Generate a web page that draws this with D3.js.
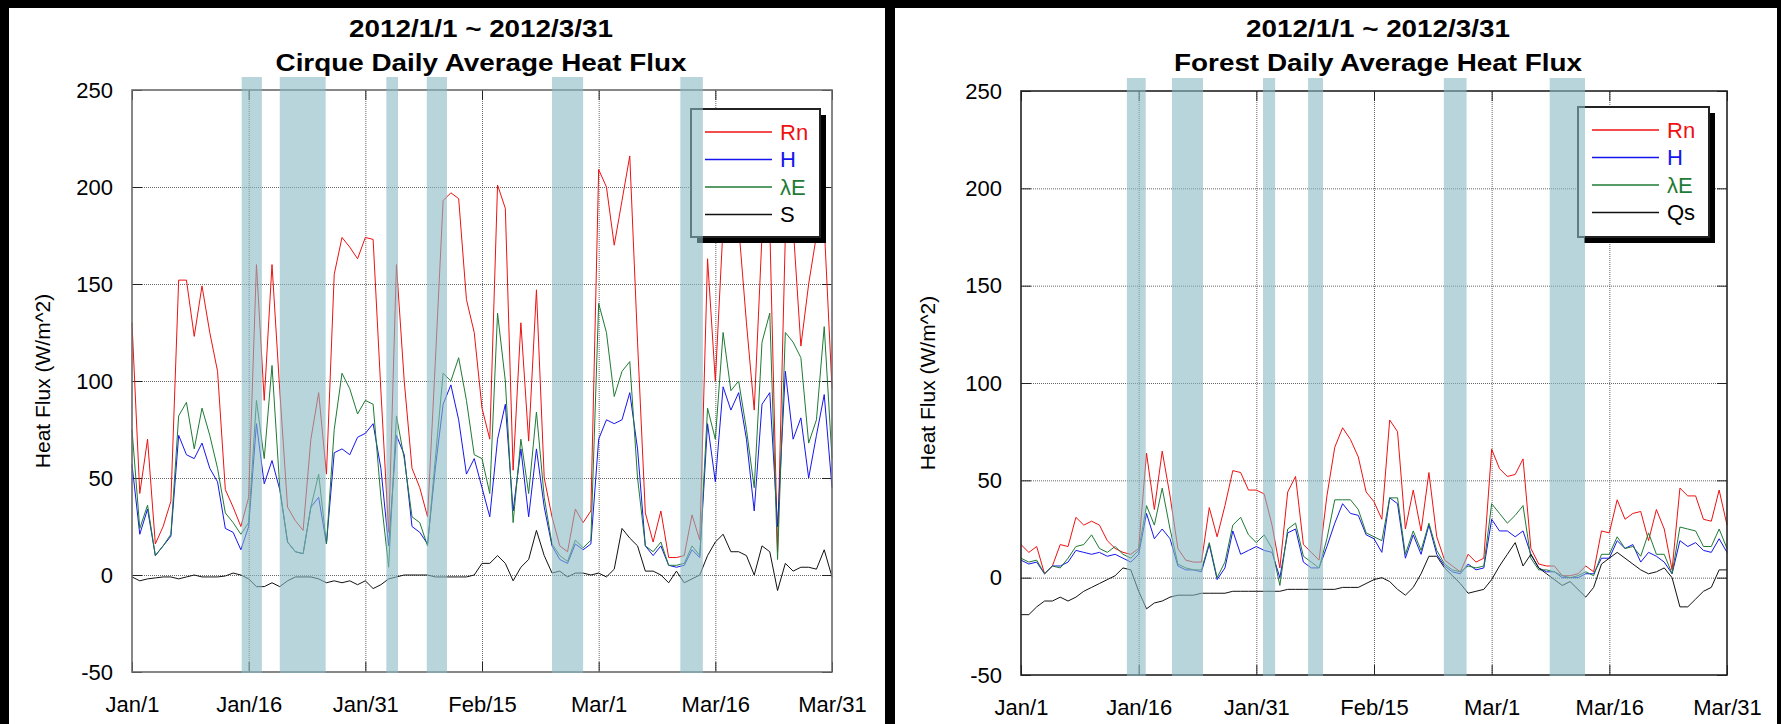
<!DOCTYPE html>
<html>
<head>
<meta charset="utf-8">
<script src="https://cdn.jsdelivr.net/npm/d3@7"></script>
<style>
  body { margin: 0; background: #000; }
  svg { display: block; font-family: "Liberation Sans", Arial, sans-serif; }
</style>
</head>
<body>
<script>
// x axis: day index from 2012/1/1 (0) to 2012/3/31 (90)
const tickDays = [0, 15, 30, 45, 60, 75, 90];
const tickLabels = ["Jan/1", "Jan/16", "Jan/31", "Feb/15", "Mar/1", "Mar/16", "Mar/31"];
const yTicks = [-50, 0, 50, 100, 150, 200, 250];

// Cirque (left)
const cirqueRn = [130, 42, 70, 16, 25, 38, 152, 152, 123, 149,
  125, 105, 44, 35, 25, 40, 160, 90, 160, 95,
  35, 28, 23, 70, 94, 52, 155, 174, 169, 163,
  174, 173, 95, 22, 160, 100, 55, 45, 30, 110,
  193, 197, 194, 142, 125, 86, 70, 201, 189, 54,
  130, 69, 147, 50, 30, 15, 12, 34, 27, 33,
  209, 200, 170, 193, 216, 120, 32, 17, 33, 9,
  9, 10, 31, 18, 163, 100, 180, 172, 180, 130,
  85, 175, 180, 12, 175, 180, 118, 150, 175, 180,
  96];
const cirqueH = [57, 21, 34, 10, 15, 20, 72, 62, 60, 68,
  55, 48, 24, 22, 13, 25, 78, 47, 59, 44,
  17, 12, 11, 35, 40, 16, 63, 65, 62, 71,
  73, 78, 55, 15, 72, 62, 25, 22, 16, 55,
  88, 98, 80, 52, 60, 45, 30, 70, 88, 33,
  65, 30, 65, 35, 15, 8, 6, 16, 13, 16,
  70, 80, 78, 80, 94, 65, 15, 10, 15, 5,
  4, 5, 13, 9, 78, 48, 97, 85, 94, 70,
  33, 88, 94, 25, 105, 70, 81, 50, 72, 93,
  45];
const cirqueLE = [75, 24, 36, 10, 15, 21, 82, 89, 65, 86,
  72, 55, 32, 27, 21, 27, 90, 60, 108, 45,
  17, 12, 11, 35, 52, 16, 75, 104, 96, 83,
  90, 88, 40, 4, 82, 60, 30, 27, 15, 60,
  104, 100, 112, 90, 62, 60, 42, 135, 100, 27,
  70, 42, 84, 40, 16, 10, 7, 18, 14, 18,
  140, 125, 92, 105, 110, 50, 15, 12, 17, 5,
  5, 6, 15, 10, 86, 70, 125, 95, 100, 75,
  45, 120, 135, 8, 125, 120, 112, 68, 80, 128,
  60];
const cirqueS = [-1, -3, -2, -1.5, -1, -1, -2, -1, 0, -1,
  -1, -1, -0.5, 1, 0, -2, -6, -6, -4, -6,
  -3, -1, -1, -1, -2, -4, -3, -4, -3, -5,
  -3, -7, -5, -2, -1, 0, 0, 0, 0, -1,
  -1, -1, -1, -1, 0, 6, 6, 10, 6, -3,
  4, 8, 23, 10, 1, 2, -1, 1, 1, 0,
  1, -1, 3, 24, 19, 15, 2, 2, 0, -4,
  2, -4, -2, 0, 10, 17, 21, 12, 12, 10,
  0, 15, 12, -8, 6, 2, 4, 4, 3, 13,
  -1];
const cirqueBands = [[14.1, 16.7], [19.0, 24.9], [32.7, 34.2], [37.9, 40.5], [54.0, 58.0], [70.5, 73.4]];

// Forest (right)
const forestRn = [17, 13, 16, 2, 6, 17, 16, 31, 27, 29,
  27, 19, 15, 13, 12, 15, 64, 35, 65, 42,
  15, 9, 8, 8, 36, 21, 37, 55, 54, 45,
  45, 43, 27, 5, 44, 52, 17, 13, 9, 42,
  67, 77, 71, 62, 44, 39, 30, 81, 75, 25,
  45, 24, 54, 21, 9, 6, 3, 12, 8, 10,
  66, 56, 52, 53, 61, 15, 7, 6, 6, 1,
  1, 2, 6, 3, 24, 23, 40, 30, 33, 34,
  19, 35, 25, 4, 46, 42, 42, 30, 29, 45,
  27];
const forestH = [9, 7, 8, 2, 6, 6, 8, 14, 13, 12,
  13, 11, 12, 10, 8, 12, 33, 20, 25, 20,
  6, 4, 4, 3, 17, -1, 5, 24, 12, 14,
  16, 14, 13, 0, 23, 25, 8, 5, 5, 16,
  28, 38, 33, 32, 22, 20, 13, 41, 38, 10,
  22, 12, 27, 12, 6, 3, 2, 7, 4, 5,
  30, 24, 24, 21, 24, 12, 5, 3, 3, 0,
  0, 0, 2, 2, 10, 10, 19, 15, 17, 8,
  13, 11, 8, 2, 19, 16, 18, 14, 13, 20,
  13];
const forestLE = [10, 8, 9, 2, 6, 5, 10, 16, 17, 22,
  15, 13, 16, 12, 10, 14, 37, 27, 46, 25,
  7, 5, 4, 4, 18, 0, 8, 27, 31, 22,
  18, 22, 15, -4, 25, 28, 11, 8, 5, 20,
  40, 40, 40, 35, 23, 21, 19, 41, 41, 12,
  24, 14, 28, 14, 7, 4, 3, 6, 5, 6,
  38, 33, 28, 32, 37, 10, 4, 4, 3, 1,
  0, 1, 3, 1, 12, 12, 21, 15, 16, 11,
  23, 12, 12, 2, 26, 25, 24, 16, 16, 25,
  15];
const forestQs = [-19, -19, -15, -12, -12, -10, -12, -10, -7, -5,
  -3, -1, 1, 5, 4, -7, -16, -13, -12, -10,
  -9, -9, -9, -8, -8, -8, -8, -7, -7, -7,
  -7, -7, -7, -7, -6, -6, -6, -6, -6, -6,
  -6, -5, -5, -5, -3, -1, 0, -2, -6, -9,
  -5, 2, 11, 11, 5, 1, -3, -8, -7, -6,
  -1, 6, 12, 18, 6, 12, 5, 2, -1, -4,
  -2, -6, -10, -5, 7, 10, 13, 10, 7, 4,
  2, 3, 5, 0, -15, -15, -11, -7, -5, 4,
  4];
const forestBands = [[13.5, 15.9], [19.25, 23.2], [30.85, 32.4], [36.6, 38.5], [53.9, 56.8], [67.4, 71.9]];

const colors = { Rn: "#ee1111", H: "#1515ee", LE: "#1f7a35", S: "#111111" };

const width = 1781, height = 724;

const svg = d3.select("body").append("svg")
    .attr("width", width)
    .attr("height", height);

svg.append("rect").attr("width", width).attr("height", height).attr("fill", "#000");

function drawPanel(p) {
    const g = svg.append("g");

    // white card
    g.append("rect")
        .attr("x", p.card[0]).attr("y", p.card[1])
        .attr("width", p.card[2] - p.card[0]).attr("height", p.card[3] - p.card[1])
        .attr("fill", "#fff");

    const x = d3.scaleLinear().domain([0, 90]).range([p.left, p.right]);
    const y = d3.scaleLinear().domain([-50, 250]).range([p.bottom, p.top]);
    const innerW = p.right - p.left, innerH = p.bottom - p.top;

    // dotted grid
    g.append("g")
        .attr("transform", `translate(${p.left},0)`)
        .call(d3.axisLeft(y).tickValues(yTicks.slice(1, -1)).tickSize(-innerW).tickFormat(""))
        .call(a => a.select(".domain").remove())
        .selectAll("line").attr("stroke", "#666").attr("stroke-dasharray", "1,1");
    g.append("g")
        .attr("transform", `translate(0,${p.bottom})`)
        .call(d3.axisBottom(x).tickValues(tickDays.slice(1, -1)).tickSize(-innerH).tickFormat(""))
        .call(a => a.select(".domain").remove())
        .selectAll("line").attr("stroke", "#666").attr("stroke-dasharray", "1,1");

    // short solid ticks pointing inward on every side
    const tk = 10;
    [
        [d3.axisLeft(y).tickValues(yTicks), `translate(${p.left},0)`],
        [d3.axisRight(y).tickValues(yTicks), `translate(${p.right},0)`],
        [d3.axisBottom(x).tickValues(tickDays), `translate(0,${p.bottom})`],
        [d3.axisTop(x).tickValues(tickDays), `translate(0,${p.top})`]
    ].forEach(([ax, tr]) => {
        g.append("g").attr("transform", tr)
            .call(ax.tickSize(-tk).tickFormat(""))
            .call(a => a.select(".domain").remove())
            .selectAll("line").attr("stroke", "#222");
    });

    // series lines
    const line = d3.line().x((d, i) => x(i)).y(d => y(d));
    p.series.forEach(s => {
        g.append("path")
            .datum(s.values)
            .attr("fill", "none")
            .attr("stroke", s.color)
            .attr("stroke-width", 1)
            .attr("d", line);
    });

    // frame
    g.append("rect")
        .attr("x", p.left).attr("y", p.top)
        .attr("width", innerW).attr("height", innerH)
        .attr("fill", "none")
        .attr("stroke", p.frame)
        .attr("stroke-width", 1.6);

    // tick labels (plain hyphen for negatives, as in the original)
    g.append("g")
        .attr("transform", `translate(${p.left},0)`)
        .call(d3.axisLeft(y).tickValues(yTicks).tickFormat(d => String(d)).tickSize(0).tickPadding(19))
        .call(a => a.select(".domain").remove())
        .attr("font-size", 22).attr("font-family", null)
        .selectAll("text").attr("fill", "#000");
    g.append("g")
        .attr("transform", `translate(0,${p.bottom})`)
        .call(d3.axisBottom(x).tickValues(tickDays).tickFormat((d, i) => tickLabels[i]).tickSize(0).tickPadding(24))
        .call(a => a.select(".domain").remove())
        .attr("font-size", 22).attr("font-family", null)
        .selectAll("text").attr("fill", "#000");

    // titles
    const cx = p.titleX;
    p.title.forEach((t, i) => {
        g.append("text")
            .attr("transform", `translate(${cx},${[37, 71][i]}) scale(1.16,1)`)
            .attr("text-anchor", "middle")
            .attr("font-size", 24)
            .attr("font-weight", "bold")
            .text(t);
    });

    // y axis title
    g.append("text")
        .attr("transform", `translate(${p.yTitleX},${(p.top + p.bottom) / 2}) rotate(-90)`)
        .attr("text-anchor", "middle")
        .attr("font-size", 21)
        .text("Heat Flux (W/m^2)");

    // legend
    const lg = g.append("g");
    const [lx0, ly0, lx1, ly1] = p.legend;
    lg.append("rect")
        .attr("x", lx0 + 6).attr("y", ly0 + 6)
        .attr("width", lx1 - lx0).attr("height", ly1 - ly0)
        .attr("fill", "#000");
    lg.append("rect")
        .attr("x", lx0).attr("y", ly0)
        .attr("width", lx1 - lx0).attr("height", ly1 - ly0)
        .attr("fill", "#fff").attr("stroke", "#222").attr("stroke-width", 2);
    p.series.forEach((s, i) => {
        const yy = ly0 + 23 + i * 27.5;
        lg.append("line")
            .attr("x1", lx0 + 14).attr("x2", lx0 + 81)
            .attr("y1", yy).attr("y2", yy)
            .attr("stroke", s.color).attr("stroke-width", 1.5);
        lg.append("text")
            .attr("x", lx0 + 89).attr("y", yy)
            .attr("dy", "0.36em")
            .attr("font-size", 22)
            .attr("fill", s.color === colors.S ? "#000" : s.color)
            .text(s.name);
    });

    // shaded periods drawn over everything
    g.append("g").selectAll("rect")
        .data(p.bands)
        .join("rect")
        .attr("x", d => x(d[0]))
        .attr("width", d => x(d[1]) - x(d[0]))
        .attr("y", p.top - 13)
        .attr("height", innerH + 14)
        .attr("fill", "#89b9c5")
        .attr("opacity", 0.6);
}

drawPanel({
    card: [9, 8, 885, 724],
    left: 132, right: 832, top: 90, bottom: 672,
    frame: "#6a6a6a",
    titleX: 481,
    yTitleX: 50,
    title: ["2012/1/1 ~ 2012/3/31", "Cirque Daily Average Heat Flux"],
    legend: [691, 109, 820, 237],
    bands: cirqueBands,
    series: [
        { name: "Rn", values: cirqueRn, color: colors.Rn },
        { name: "H", values: cirqueH, color: colors.H },
        { name: "λE", values: cirqueLE, color: colors.LE },
        { name: "S", values: cirqueS, color: colors.S }
    ]
});

drawPanel({
    card: [895, 8, 1777, 724],
    left: 1021, right: 1727, top: 91, bottom: 675,
    frame: "#222",
    titleX: 1378,
    yTitleX: 935,
    title: ["2012/1/1 ~ 2012/3/31", "Forest Daily Average Heat Flux"],
    legend: [1578, 107, 1709, 237],
    bands: forestBands,
    series: [
        { name: "Rn", values: forestRn, color: colors.Rn },
        { name: "H", values: forestH, color: colors.H },
        { name: "λE", values: forestLE, color: colors.LE },
        { name: "Qs", values: forestQs, color: colors.S }
    ]
});
</script>
</body>
</html>
